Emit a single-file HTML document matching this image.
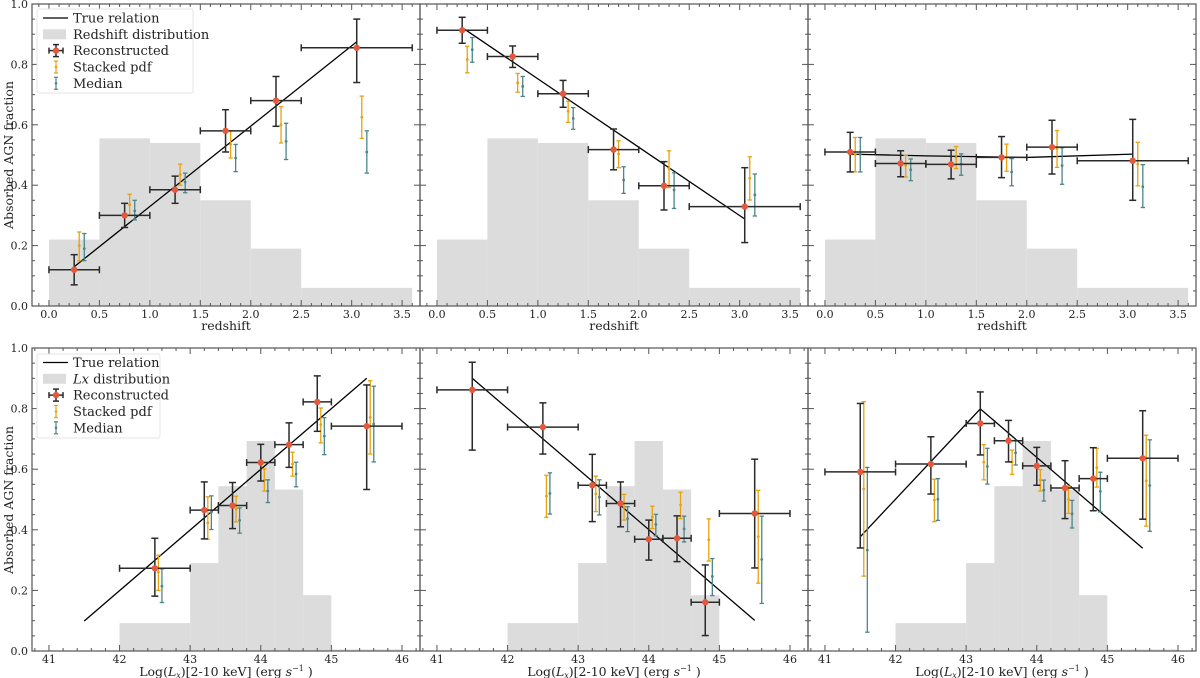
<!DOCTYPE html>
<html><head><meta charset="utf-8"><style>
html,body{margin:0;padding:0;background:#fff;}
svg{display:block;font-family:"DejaVu Serif","Liberation Serif",serif;}
</style></head><body>
<svg id="fig" width="1200" height="678" viewBox="0 0 1200 678" xmlns="http://www.w3.org/2000/svg"></svg>
<script>
// ---------- data ----------
const zEdges=[0,0.5,1,1.5,2,2.5,3.6];
const zHist=[0.22,0.555,0.54,0.35,0.19,0.06];
const zCenters=[0.25,0.75,1.25,1.75,2.25,3.05];
const zBinLo=[0,0.5,1,1.5,2,2.5];
const zBinHi=[0.5,1,1.5,2,2.5,3.6];
const zTicks=[0,0.5,1,1.5,2,2.5,3,3.5];
const zTickLabels=["0.0","0.5","1.0","1.5","2.0","2.5","3.0","3.5"];

const lxEdges=[42,43,43.4,43.8,44.2,44.6,45,46];
const lxHist=[0.092,0.29,0.544,0.693,0.533,0.184,0.005];
const lxCentersA=[42.5,43.2,43.6,44.0,44.4,44.8,45.5];
const lxBinLoA=[42,43,43.4,43.8,44.2,44.6,45];
const lxBinHiA=[43,43.4,43.8,44.2,44.6,45,46];
const lxCentersB=[41.5,42.5,43.2,43.6,44.0,44.4,44.8,45.5];
const lxBinLoB=[41,42,43,43.4,43.8,44.2,44.6,45];
const lxBinHiB=[42,43,43.4,43.8,44.2,44.6,45,46];
const lxTicks=[41,42,43,44,45,46];
const lxTickLabels=["41","42","43","44","45","46"];
const yTicks=[0,0.2,0.4,0.6,0.8,1.0];
const yTickLabels=["0.0","0.2","0.4","0.6","0.8","1.0"];

// panel 1 (redshift, increasing)
const trueX1=[0.25,3.05], trueY1=[0.13,0.875];
const rec1=[0.12,0.30,0.385,0.58,0.68,0.855], rec1Lo=[0.07,0.26,0.34,0.51,0.595,0.74], rec1Hi=[0.17,0.34,0.43,0.65,0.76,0.95];
const stk1=[0.20,0.335,0.435,0.535,0.60,0.625], stk1Lo=[0.15,0.30,0.40,0.49,0.54,0.555], stk1Hi=[0.245,0.37,0.47,0.58,0.66,0.695];
const med1=[0.19,0.315,0.41,0.49,0.545,0.51], med1Lo=[0.15,0.285,0.375,0.445,0.485,0.44], med1Hi=[0.24,0.35,0.44,0.535,0.605,0.58];
// panel 2 (redshift, decreasing)
const trueX2=[0.25,3.05], trueY2=[0.922,0.288];
const rec2=[0.913,0.826,0.703,0.518,0.398,0.329], rec2Lo=[0.87,0.79,0.658,0.451,0.318,0.21], rec2Hi=[0.956,0.861,0.747,0.586,0.478,0.458];
const stk2=[0.816,0.739,0.645,0.503,0.455,0.423], stk2Lo=[0.772,0.708,0.608,0.458,0.392,0.351], stk2Hi=[0.86,0.77,0.678,0.547,0.514,0.494];
const med2=[0.849,0.727,0.621,0.417,0.384,0.368], med2Lo=[0.807,0.694,0.585,0.373,0.323,0.298], med2Hi=[0.889,0.76,0.657,0.461,0.441,0.437];
// panel 3 (redshift, flat)
const trueX3=[0.25,1.0,2.0,3.05], trueY3=[0.503,0.497,0.492,0.503];
const rec3=[0.51,0.472,0.469,0.492,0.526,0.481], rec3Lo=[0.444,0.428,0.421,0.425,0.437,0.35], rec3Hi=[0.575,0.514,0.516,0.561,0.615,0.618];
const stk3=[0.502,0.465,0.491,0.492,0.521,0.47], stk3Lo=[0.444,0.427,0.455,0.446,0.459,0.398], stk3Hi=[0.558,0.499,0.528,0.536,0.581,0.542];
const med3=[0.502,0.451,0.47,0.444,0.465,0.395], med3Lo=[0.444,0.415,0.433,0.398,0.403,0.326], med3Hi=[0.558,0.487,0.504,0.488,0.524,0.468];
// panel 4 (Lx, increasing)
const trueX4=[41.5,45.5], trueY4=[0.099,0.9];
const rec4=[0.273,0.465,0.48,0.622,0.681,0.822,0.742], rec4Lo=[0.181,0.37,0.404,0.561,0.606,0.725,0.533], rec4Hi=[0.372,0.558,0.556,0.682,0.753,0.908,0.878];
const stk4=[0.26,0.423,0.469,0.564,0.617,0.747,0.771], stk4Lo=[0.2,0.369,0.426,0.528,0.577,0.687,0.65], stk4Hi=[0.316,0.509,0.511,0.601,0.656,0.802,0.892];
const med4=[0.214,0.458,0.431,0.528,0.584,0.709,0.749], med4Lo=[0.16,0.401,0.389,0.49,0.542,0.648,0.624], med4Hi=[0.271,0.512,0.472,0.565,0.623,0.77,0.874];
// panel 5 (Lx, decreasing)
const trueX5=[41.5,45.5], trueY5=[0.9,0.101];
const rec5=[0.862,0.739,0.547,0.487,0.369,0.372,0.161,0.454], rec5Lo=[0.663,0.65,0.427,0.41,0.3,0.295,0.051,0.274], rec5Hi=[0.953,0.819,0.649,0.558,0.432,0.446,0.284,0.633];
const stk5=[null,0.511,0.519,0.475,0.442,0.482,0.367,0.377], stk5Lo=[null,0.441,0.46,0.432,0.404,0.437,0.297,0.224], stk5Hi=[null,0.58,0.577,0.517,0.478,0.524,0.436,0.53];
const med5=[null,0.52,0.508,0.437,0.418,0.403,0.246,0.302], med5Lo=[null,0.452,0.449,0.394,0.38,0.36,0.183,0.157], med5Hi=[null,0.588,0.565,0.476,0.451,0.445,0.305,0.445];
// panel 6 (Lx, peaked)
const trueX6=[41.5,43.2,45.5], trueY6=[0.377,0.799,0.339];
const rec6=[0.591,0.617,0.751,0.694,0.611,0.538,0.569,0.636], rec6Lo=[0.34,0.518,0.647,0.624,0.547,0.437,0.463,0.435], rec6Hi=[0.817,0.707,0.855,0.761,0.672,0.628,0.671,0.793];
const stk6=[0.535,0.498,0.623,0.624,0.564,0.5,0.605,0.562], stk6Lo=[0.247,0.427,0.565,0.583,0.528,0.454,0.541,0.412], stk6Hi=[0.823,0.567,0.681,0.663,0.599,0.544,0.669,0.712];
const med6=[0.333,0.501,0.609,0.654,0.531,0.453,0.527,0.546], med6Lo=[0.062,0.431,0.551,0.614,0.495,0.406,0.459,0.395], med6Hi=[0.606,0.569,0.669,0.695,0.564,0.497,0.59,0.697];

// ---------- drawing ----------
const NS="http://www.w3.org/2000/svg";
const svg=document.getElementById('fig');
function mk(tag,attrs,parent){const e=document.createElementNS(NS,tag);for(const k in attrs)e.setAttribute(k,attrs[k]);(parent||svg).appendChild(e);return e;}
const RED="#e4583c",ORG="#e8a20e",TEAL="#4b858a";

function panel(idx,x0,y0,w,h,xmin,xmax,type,showY,cfg){
  const g=mk('g',{});
  
  
  const sx=v=>x0+(v-xmin)/(xmax-xmin)*w;
  const sy=v=>y0+h-v*h;
  const edges=type==='z'?zEdges:lxEdges, hist=type==='z'?zHist:lxHist;
  for(let i=0;i<hist.length;i++){
    const r=mk('rect',{x:sx(edges[i]),y:sy(hist[i]),width:sx(edges[i+1])-sx(edges[i]),height:sy(0)-sy(hist[i]),fill:"#dcdcdc"},g);
    
    
  }
  const pts=cfg.tx.map((v,i)=>sx(v)+","+sy(cfg.ty[i])).join(" ");
  const tl=mk('polyline',{points:pts,fill:"none",stroke:"#000","stroke-width":1.3},g);
  
  
  function eb(xv,v,lo,hi,col,cap,sw,r,name){
    if(v===null||v===undefined)return;
    const eg=mk('g',{},g);
    
    
    const X=sx(xv);
    mk('line',{x1:X,x2:X,y1:sy(lo),y2:sy(hi),stroke:col,"stroke-width":sw},eg);
    mk('line',{x1:X-cap,x2:X+cap,y1:sy(lo),y2:sy(lo),stroke:col,"stroke-width":sw},eg);
    mk('line',{x1:X-cap,x2:X+cap,y1:sy(hi),y2:sy(hi),stroke:col,"stroke-width":sw},eg);
    mk('circle',{cx:X,cy:sy(v),r:r,fill:col},eg);
  }
  for(let i=0;i<cfg.cx.length;i++){
    eb(cfg.cx[i]+0.05,cfg.st[i],cfg.stLo[i],cfg.stHi[i],ORG,2.2,1.3,1.4,'stacked-pdf-point');
    eb(cfg.cx[i]+0.1,cfg.md[i],cfg.mdLo[i],cfg.mdHi[i],TEAL,2.2,1.3,1.4,'median-point');
  }
  for(let i=0;i<cfg.cx.length;i++){
    const eg=mk('g',{},g);
    
    
    const X=sx(cfg.cx[i]),Y=sy(cfg.rc[i]),c="#2a2a2a";
    mk('line',{x1:sx(cfg.lo[i]),x2:sx(cfg.hi[i]),y1:Y,y2:Y,stroke:c,"stroke-width":1.5},eg);
    mk('line',{x1:sx(cfg.lo[i]),x2:sx(cfg.lo[i]),y1:Y-3.5,y2:Y+3.5,stroke:c,"stroke-width":1.5},eg);
    mk('line',{x1:sx(cfg.hi[i]),x2:sx(cfg.hi[i]),y1:Y-3.5,y2:Y+3.5,stroke:c,"stroke-width":1.5},eg);
    mk('line',{x1:X,x2:X,y1:sy(cfg.rcLo[i]),y2:sy(cfg.rcHi[i]),stroke:c,"stroke-width":1.5},eg);
    mk('line',{x1:X-3.5,x2:X+3.5,y1:sy(cfg.rcLo[i]),y2:sy(cfg.rcLo[i]),stroke:c,"stroke-width":1.5},eg);
    mk('line',{x1:X-3.5,x2:X+3.5,y1:sy(cfg.rcHi[i]),y2:sy(cfg.rcHi[i]),stroke:c,"stroke-width":1.5},eg);
    mk('circle',{cx:X,cy:Y,r:3.2,fill:RED},eg);
  }
  const fr=mk('rect',{x:x0,y:y0,width:w,height:h,fill:"none",stroke:"#555","stroke-width":1.2},g);
  
  
  const tg=mk('g',{stroke:"#555","stroke-width":1},g);
  const majorX=type==='z'?zTicks:lxTicks, minStep=type==='z'?0.1:0.2;
  for(let v=Math.ceil(xmin/minStep)*minStep;v<=xmax+1e-9;v+=minStep){
    const X=sx(v),isMaj=majorX.some(m=>Math.abs(m-v)<1e-6),L=isMaj?6:3;
    mk('line',{x1:X,x2:X,y1:y0+h,y2:y0+h-L},tg);mk('line',{x1:X,x2:X,y1:y0,y2:y0+L},tg);
  }
  for(let v=0;v<=1.0001;v+=0.05){
    const Y=sy(v),isMaj=Math.abs(v*5-Math.round(v*5))<1e-6,L=isMaj?6:3;
    mk('line',{x1:x0,x2:x0+L,y1:Y,y2:Y},tg);mk('line',{x1:x0+w,x2:x0+w-L,y1:Y,y2:Y},tg);
  }
  const labs=type==='z'?zTickLabels:lxTickLabels;
  majorX.forEach((v,i)=>{
    const t=mk('text',{x:sx(v),y:y0+h+12,"font-size":11,"text-anchor":"middle",fill:"#222"},g);
    t.textContent=labs[i];
    
    
  });
  if(showY){
    yTicks.forEach((v,i)=>{
      const t=mk('text',{x:x0-4,y:sy(v)+4,"font-size":11,"text-anchor":"end",fill:"#222"},g);
      t.textContent=yTickLabels[i];
      
      
    });
  }
  const xl=mk('text',{x:x0+w/2,y:y0+h+(type==='z'?24:25),"font-size":12.5,"text-anchor":"middle",fill:"#222"},g);
  
  
  if(type==='z'){xl.textContent='redshift';}
  else{xl.innerHTML='Log(<tspan font-style="italic">L</tspan><tspan font-style="italic" font-size="8" dy="2">x</tspan><tspan dy="-2">)[2-10 keV] (erg </tspan><tspan font-style="italic">s</tspan><tspan font-size="8" dy="-5">−1</tspan><tspan dy="5"> )</tspan>';}
}

const W=388;
const zr=[-0.168,3.677], lr=[40.76,46.255];
panel('redshift-increasing',32,4,W,302,zr[0],zr[1],'z',true,{tx:trueX1,ty:trueY1,cx:zCenters,lo:zBinLo,hi:zBinHi,rc:rec1,rcLo:rec1Lo,rcHi:rec1Hi,st:stk1,stLo:stk1Lo,stHi:stk1Hi,md:med1,mdLo:med1Lo,mdHi:med1Hi});
panel('redshift-decreasing',420,4,W,302,zr[0],zr[1],'z',false,{tx:trueX2,ty:trueY2,cx:zCenters,lo:zBinLo,hi:zBinHi,rc:rec2,rcLo:rec2Lo,rcHi:rec2Hi,st:stk2,stLo:stk2Lo,stHi:stk2Hi,md:med2,mdLo:med2Lo,mdHi:med2Hi});
panel('redshift-flat',808,4,W,302,zr[0],zr[1],'z',false,{tx:trueX3,ty:trueY3,cx:zCenters,lo:zBinLo,hi:zBinHi,rc:rec3,rcLo:rec3Lo,rcHi:rec3Hi,st:stk3,stLo:stk3Lo,stHi:stk3Hi,md:med3,mdLo:med3Lo,mdHi:med3Hi});
panel('lx-increasing',32,348,W,303,lr[0],lr[1],'lx',true,{tx:trueX4,ty:trueY4,cx:lxCentersA,lo:lxBinLoA,hi:lxBinHiA,rc:rec4,rcLo:rec4Lo,rcHi:rec4Hi,st:stk4,stLo:stk4Lo,stHi:stk4Hi,md:med4,mdLo:med4Lo,mdHi:med4Hi});
panel('lx-decreasing',420,348,W,303,lr[0],lr[1],'lx',false,{tx:trueX5,ty:trueY5,cx:lxCentersB,lo:lxBinLoB,hi:lxBinHiB,rc:rec5,rcLo:rec5Lo,rcHi:rec5Hi,st:stk5,stLo:stk5Lo,stHi:stk5Hi,md:med5,mdLo:med5Lo,mdHi:med5Hi});
panel('lx-peaked',808,348,W,303,lr[0],lr[1],'lx',false,{tx:trueX6,ty:trueY6,cx:lxCentersB,lo:lxBinLoB,hi:lxBinHiB,rc:rec6,rcLo:rec6Lo,rcHi:rec6Hi,st:stk6,stLo:stk6Lo,stHi:stk6Hi,md:med6,mdLo:med6Lo,mdHi:med6Hi});

[155,500].forEach(cy=>{
  const t=mk('text',{x:0,y:0,"font-size":12.5,"text-anchor":"middle",fill:"#222",transform:"translate(13,"+cy+") rotate(-90)"});
  t.textContent='Absorbed AGN fraction';
  
  
});

function legend(x,y,w,rows0,distLabel,name){
  const g=mk('g',{});
  
  
  mk('rect',{x:x,y:y,width:w,height:84,fill:"#fff","fill-opacity":0.85,stroke:"#e6e6e6",rx:2},g);
  const lx=x+4,tx=x+36,r=[rows0,rows0+16.3,rows0+32.6,rows0+49,rows0+65.3];
  mk('line',{x1:lx+2,x2:lx+27,y1:r[0],y2:r[0],stroke:"#000","stroke-width":1.3},g);
  mk('rect',{x:lx+2,y:r[1]-5,width:23,height:10,fill:"#dcdcdc"},g);
  const c=lx+15;
  mk('line',{x1:c-7,x2:c+7,y1:r[2],y2:r[2],stroke:"#2a2a2a","stroke-width":1.5},g);
  mk('line',{x1:c,x2:c,y1:r[2]-6,y2:r[2]+6,stroke:"#2a2a2a","stroke-width":1.5},g);
  [c-7,c+7].forEach(px=>mk('line',{x1:px,x2:px,y1:r[2]-3,y2:r[2]+3,stroke:"#2a2a2a","stroke-width":1.5},g));
  mk('line',{x1:c-3,x2:c+3,y1:r[2]-6,y2:r[2]-6,stroke:"#2a2a2a","stroke-width":1.5},g);
  mk('line',{x1:c-3,x2:c+3,y1:r[2]+6,y2:r[2]+6,stroke:"#2a2a2a","stroke-width":1.5},g);
  mk('circle',{cx:c,cy:r[2],r:3.2,fill:RED},g);
  [[r[3],ORG],[r[4],TEAL]].forEach(p=>{
    mk('line',{x1:c,x2:c,y1:p[0]-6,y2:p[0]+6,stroke:p[1],"stroke-width":1.2},g);
    mk('line',{x1:c-2,x2:c+2,y1:p[0]-6,y2:p[0]-6,stroke:p[1],"stroke-width":1.2},g);
    mk('line',{x1:c-2,x2:c+2,y1:p[0]+6,y2:p[0]+6,stroke:p[1],"stroke-width":1.2},g);
    mk('circle',{cx:c,cy:p[0],r:1.3,fill:p[1]},g);
  });
  const labels=['True relation',distLabel,'Reconstructed','Stacked pdf','Median'];
  labels.forEach((s,i)=>{
    const t=mk('text',{x:tx,y:r[i]+4.5,"font-size":13,fill:"#222"},g);
    if(i===1&&s==='LX'){t.innerHTML='<tspan font-style="italic">Lx</tspan> distribution';}
    else t.textContent=s;
    
    
  });
}
legend(37,9,156,18,'Redshift distribution','legend-redshift');
legend(37,354,123,362.5,'LX','legend-lx');
</script>
</body></html>
